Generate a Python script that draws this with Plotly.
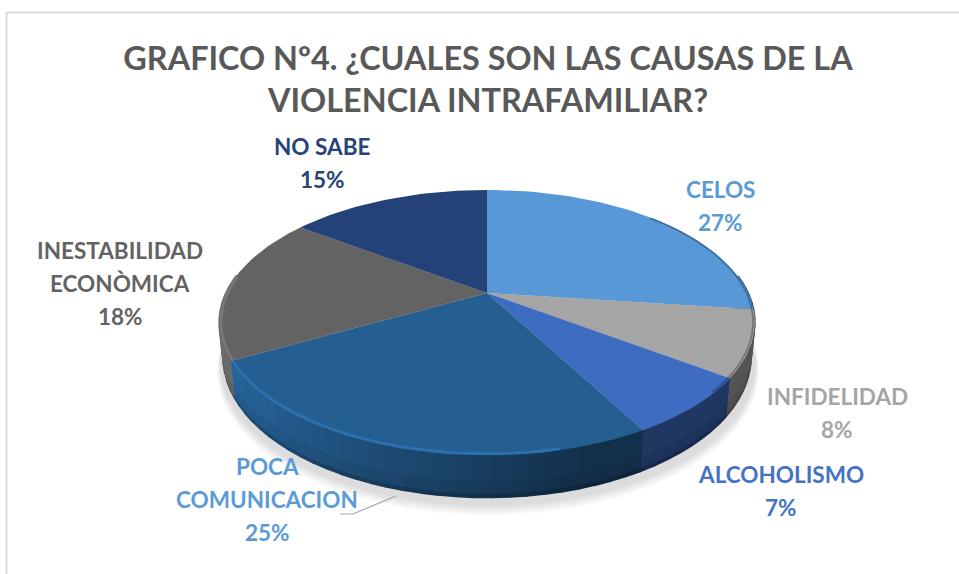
import math
import plotly.graph_objects as go

TITLE = "GRAFICO Nº4. ¿CUALES SON LAS CAUSAS DE LA<br>VIOLENCIA INTRAFAMILIAR?"
names = ["CELOS", "INFIDELIDAD", "ALCOHOLISMO", "POCA<br>COMUNICACION", "INESTABILIDAD<br>ECONÒMICA", "NO SABE"]
percent = [27, 8, 7, 25, 18, 15]
top_rgb = [(88, 152, 214), (165, 165, 165), (62, 108, 192), (37, 94, 145), (99, 99, 99), (36, 66, 120)]
label_colors = ["#5b9bd5", "#a5a5a5", "#4472c4", "#5b9bd5", "#636363", "#264478"]
label_pos = [(720, 189), (837, 396), (781, 474), (267, 466), (120, 250), (322, 146)]

CX, CY, RX, RY, K, DEPTH = 487, 293, 261, 126, 0.2226, 33.5
FONT = "Lato, Carlito, Calibri, sans-serif"
BANDS = [(0.0, 0.6, 1.02), (0.6, 0.88, 0.95), (0.88, 0.98, 0.78)]


def proj(a, drop=0.0, shrink=1.0, r=1.0):
    X, Y = r * math.sin(a), r * math.cos(a)
    d = 1 + K * Y
    return CX + shrink * RX * X / d, CY + (drop - RY * Y) / d


def rgb(c, f=1.0, a=None):
    v = [max(0, min(255, round(x * f))) for x in c]
    return f"rgb({v[0]},{v[1]},{v[2]})" if a is None else f"rgba({v[0]},{v[1]},{v[2]},{a})"


def shade(X):
    return 0.5 if X > 0.3 else 0.5 + (0.3 - X) / 1.3 * 0.6


fig = go.Figure()


def poly(xs, ys, fill, line=None, width=0):
    fig.add_trace(go.Scatter(x=xs, y=ys, mode="lines", fill="toself", fillcolor=fill,
                             line=dict(color=line or "rgba(0,0,0,0)", width=width),
                             hoverinfo="skip", showlegend=False))


# soft shadow beneath the disc
ring = [math.radians(i) for i in range(0, 361, 4)]
for i in range(7):
    pts = [proj(a, DEPTH + 6 + i * 1.2, 1.0 + 0.002 * i) for a in ring]
    poly([p[0] + 1 for p in pts], [p[1] for p in pts], "rgba(60,50,50,0.022)")

total = sum(percent)
edges = [0]
for v in percent:
    edges.append(edges[-1] + v / total * 2 * math.pi)

# outer wall: thin strips around the rim, three shaded bands from top to bottom
for d0, d1, g in BANDS[::-1]:
    s0, s1 = 1 - 0.015 * d0, 1 - 0.015 * d1
    for i in range(len(percent)):
        n = max(2, int((edges[i + 1] - edges[i]) / math.radians(3)))
        for j in range(n):
            a0 = edges[i] + (edges[i + 1] - edges[i]) * j / n
            a1 = edges[i] + (edges[i + 1] - edges[i]) * (j + 1) / n
            if math.cos((a0 + a1) / 2) > 0.15:
                continue
            f = shade(math.sin((a0 + a1) / 2))
            p = [proj(a0, DEPTH * d0, s0), proj(a1, DEPTH * d0, s0),
                 proj(a1, DEPTH * d1, s1), proj(a0, DEPTH * d1, s1)]
            col = rgb(top_rgb[i], f * g)
            poly([q[0] for q in p], [q[1] for q in p], col, col, 2)

# top face of each slice
for i in range(len(percent)):
    n = max(8, int((edges[i + 1] - edges[i]) / math.radians(2)))
    arc = [proj(edges[i] + (edges[i + 1] - edges[i]) * j / n) for j in range(n + 1)]
    xs = [CX] + [q[0] for q in arc] + [CX]
    ys = [CY] + [q[1] for q in arc] + [CY]
    poly(xs, ys, rgb(top_rgb[i]))

# rim of the top face: lit on the front left, dark on the right
for i in range(len(percent)):
    n = max(8, int((edges[i + 1] - edges[i]) / math.radians(2)))
    angles = [edges[i] + (edges[i + 1] - edges[i]) * j / n for j in range(n + 1)]
    lit = [a for a in angles if math.sin(a) < 0.25 and math.cos(a) < 0.15]
    dark = [a for a in angles if math.sin(a) > 0.72]
    for group, f, w in ((lit, 1.25, 3), (dark, 0.62, 1.6)):
        if len(group) > 1:
            arc = [proj(a, r=0.994) for a in group]
            fig.add_trace(go.Scatter(x=[q[0] for q in arc], y=[q[1] for q in arc], mode="lines",
                                     line=dict(color=rgb(top_rgb[i], f, 0.8), width=w),
                                     hoverinfo="skip", showlegend=False))

# leader line of POCA COMUNICACION
fig.add_trace(go.Scatter(x=[340, 353, 396], y=[514, 514, 496], mode="lines",
                         line=dict(color="#a6a6a6", width=1.2), hoverinfo="skip", showlegend=False))

# data labels, one annotation per text line
LINE_STEP = 33
for name, v, col, (x, y) in zip(names, percent, label_colors, label_pos):
    for k, txt in enumerate(name.split("<br>") + [f"{v}%"]):
        fig.add_annotation(x=x, y=y + k * LINE_STEP, text=f"<b>{txt}</b>", showarrow=False,
                           xanchor="center", yanchor="middle",
                           font=dict(family=FONT, size=22.5, color=col))

fig.update_layout(
    width=959, height=574, margin=dict(l=0, r=0, t=0, b=0),
    paper_bgcolor="white", plot_bgcolor="white", showlegend=False,
    title=dict(text=f"<b>{TITLE}</b>", x=488 / 959, xanchor="center", y=1 - 69.5 / 574, yanchor="middle",
               font=dict(family=FONT, size=32.4, color="#595959")),
    xaxis=dict(range=[0, 959], visible=False, fixedrange=True),
    yaxis=dict(range=[574, 0], visible=False, fixedrange=True),
    shapes=[
        dict(type="line", x0=6.5, x1=6.5, y0=12, y1=574, line=dict(color="#d9d9d9", width=2)),
        dict(type="line", x0=6, x1=959, y0=12.5, y1=12.5, line=dict(color="#d9d9d9", width=2)),
    ],
)
fig.write_html("out.html", config={"displayModeBar": False},
               post_script="document.body.style.margin='0';document.body.style.overflow='hidden';")
